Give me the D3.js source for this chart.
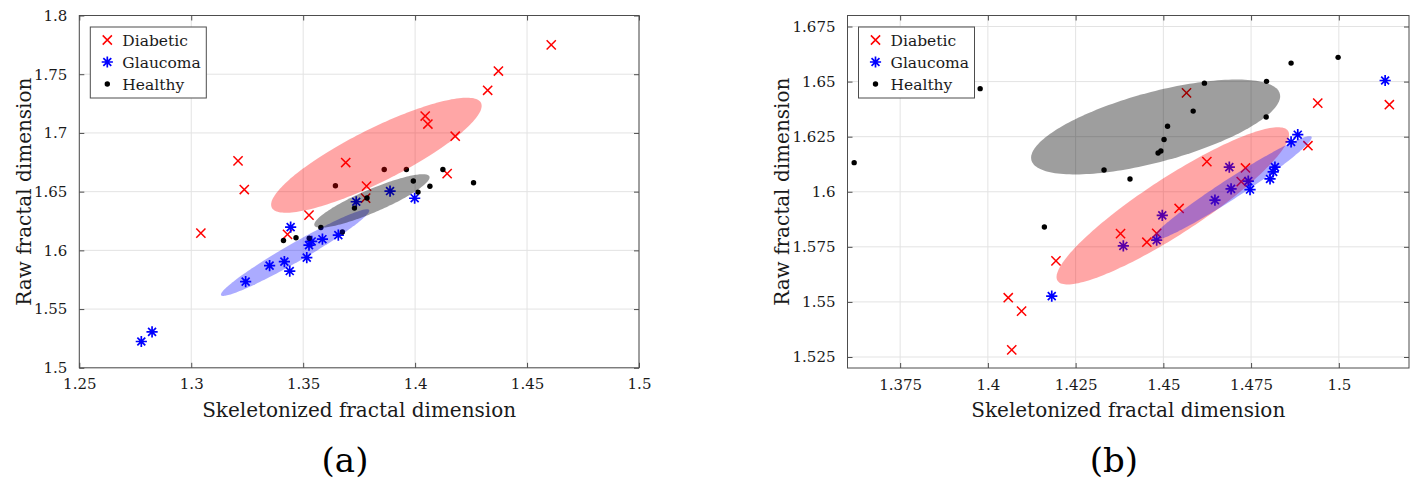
<!DOCTYPE html>
<html>
<head>
<meta charset="utf-8">
<script src="https://cdn.jsdelivr.net/npm/d3@7"></script>
<style>
  html, body { margin: 0; padding: 0; background: #fff; }
  svg { display: block; }
  svg text { font-family: "DejaVu Serif", "Liberation Serif", serif; }
</style>
</head>
<body>
<svg id="chart" width="1414" height="482"></svg>
<script>
'use strict';

// ── Data: panel (a) ─────────────────────────────────────────────────────────
const aXTicks = [1.25, 1.3, 1.35, 1.4, 1.45, 1.5];
const aYTicks = [1.5, 1.55, 1.6, 1.65, 1.7, 1.75, 1.8];

const aDiabetic = [
  [1.4608, 1.775], [1.4372, 1.7527], [1.4324, 1.7363], [1.4045, 1.7144],
  [1.4057, 1.7076], [1.4179, 1.6972], [1.3209, 1.6762], [1.369, 1.6748],
  [1.3237, 1.6518], [1.4143, 1.6654], [1.3783, 1.6547], [1.3779, 1.6445],
  [1.3526, 1.63], [1.3043, 1.6147], [1.343, 1.6136]
];
const aGlaucoma = [
  [1.2777, 1.5224], [1.2825, 1.5306], [1.3243, 1.5734], [1.3350, 1.5870],
  [1.3416, 1.5904], [1.3440, 1.5824], [1.3516, 1.5938], [1.3444, 1.6198],
  [1.3526, 1.6045], [1.3538, 1.6076], [1.3586, 1.6095], [1.3657, 1.6130],
  [1.3737, 1.6414], [1.3888, 1.6505], [1.3998, 1.6444]
];
const aHealthy = [
  [1.3644, 1.6550], [1.3862, 1.6688], [1.3961, 1.6688], [1.4124, 1.6689],
  [1.3992, 1.6591], [1.4066, 1.6546], [1.4013, 1.6496], [1.4261, 1.6576],
  [1.3785, 1.6446], [1.3729, 1.6360], [1.3579, 1.6195], [1.3675, 1.6157],
  [1.3412, 1.6084], [1.3468, 1.6108], [1.3527, 1.6103]
];
// ellipses: centre c, semi-axis vectors u and v (data units)
const aEllDiabetic = { c: [1.3827, 1.6810], u: [0.04672, 0.04462], v: [0.00530, -0.02017] };
const aEllGlaucoma = { c: [1.3464, 1.5981], u: [0.03307, 0.03625], v: [0.00207, -0.00687] };
const aEllHealthy  = { c: [1.3807, 1.6421], u: [0.02568, 0.02088], v: [0.00203, -0.00909] };

// ── Data: panel (b) ─────────────────────────────────────────────────────────
const bXTicks = [1.375, 1.4, 1.425, 1.45, 1.475, 1.5];
const bYTicks = [1.525, 1.55, 1.575, 1.6, 1.625, 1.65, 1.675];

const bDiabetic = [
  [1.4566, 1.6449], [1.4940, 1.6402], [1.5144, 1.6395], [1.4912, 1.6209],
  [1.4624, 1.6137], [1.4734, 1.6108], [1.4722, 1.6046], [1.4545, 1.5924],
  [1.4378, 1.5810], [1.4481, 1.5811], [1.4453, 1.5771], [1.4194, 1.5686],
  [1.4058, 1.5519], [1.4096, 1.5458], [1.4068, 1.5282]
];
const bGlaucoma = [
  [1.4182, 1.5526], [1.4386, 1.5754], [1.4481, 1.5780], [1.4497, 1.5893],
  [1.4647, 1.5962], [1.4693, 1.6013], [1.4688, 1.6112], [1.4742, 1.6048],
  [1.4747, 1.6010], [1.4804, 1.6058], [1.4813, 1.6090], [1.4818, 1.6112],
  [1.4864, 1.6226], [1.4883, 1.6259], [1.5132, 1.6505]
];
const bHealthy = [
  [1.3619, 1.6132], [1.3978, 1.6468], [1.4161, 1.5840], [1.4331, 1.6099],
  [1.4405, 1.6058], [1.4485, 1.6176], [1.4493, 1.6185], [1.4502, 1.6237],
  [1.4512, 1.6297], [1.4585, 1.6366], [1.4617, 1.6493], [1.4794, 1.6501],
  [1.4793, 1.6339], [1.4864, 1.6584], [1.4998, 1.6610]
];
const bEllDiabetic = { c: [1.4527, 1.5936], u: [0.03284, 0.03403], v: [0.00438, -0.01073] };
const bEllGlaucoma = { c: [1.4695, 1.6015], u: [0.02273, 0.02342], v: [0.00155, -0.00381] };
const bEllHealthy  = { c: [1.4478, 1.6294], u: [0.03539, 0.01511], v: [0.00258, -0.01535] };

const legendLabels = ['Diabetic', 'Glaucoma', 'Healthy'];
const xTitle = 'Skeletonized fractal dimension';
const yTitle = 'Raw fractal dimension';

// ── Styles ──────────────────────────────────────────────────────────────────
const RED = '#ff0000', BLUE = '#0000ff', BLACK = '#000000';
const AXIS_COL = '#4d4d4d';
const GRID_COL = '#e3e3e3';
const TEXT_COL = '#1a1a1a';

const svg = d3.select('#chart');
svg.append('rect').attr('width', 1414).attr('height', 482).attr('fill', '#fff');

// marker painters
function drawCross(g, x, y) {
  const s = 4.6;
  g.append('path')
    .attr('d', `M${x - s},${y - s}L${x + s},${y + s}M${x - s},${y + s}L${x + s},${y - s}`)
    .attr('stroke', RED).attr('stroke-width', 1.5).attr('fill', 'none');
}
function drawStar(g, x, y) {
  const s = 5.6, d = s * Math.SQRT1_2;
  g.append('path')
    .attr('d', `M${x - s},${y}L${x + s},${y}M${x},${y - s}L${x},${y + s}` +
               `M${x - d},${y - d}L${x + d},${y + d}M${x - d},${y + d}L${x + d},${y - d}`)
    .attr('stroke', BLUE).attr('stroke-width', 1.7).attr('fill', 'none');
}
function drawDot(g, x, y) {
  g.append('circle').attr('cx', x).attr('cy', y).attr('r', 2.7).attr('fill', BLACK);
}

function panel(cfg) {
  const { left, right, top, bottom } = cfg;
  const x = d3.scaleLinear().domain(cfg.xDomain).range([left, right]);
  const y = d3.scaleLinear().domain(cfg.yDomain).range([bottom, top]);
  const g = svg.append('g');

  // grid
  g.append('g').selectAll('line').data(cfg.xTicks).join('line')
    .attr('x1', d => x(d)).attr('x2', d => x(d))
    .attr('y1', top).attr('y2', bottom)
    .attr('stroke', GRID_COL).attr('stroke-width', 1);
  g.append('g').selectAll('line').data(cfg.yTicks).join('line')
    .attr('x1', left).attr('x2', right)
    .attr('y1', d => y(d)).attr('y2', d => y(d))
    .attr('stroke', GRID_COL).attr('stroke-width', 1);

  // markers (under the ellipses)
  const mk = g.append('g');
  cfg.diabetic.forEach(p => drawCross(mk, x(p[0]), y(p[1])));
  cfg.glaucoma.forEach(p => drawStar(mk, x(p[0]), y(p[1])));
  cfg.healthy.forEach(p => drawDot(mk, x(p[0]), y(p[1])));

  // ellipses
  const ts = d3.range(0, 2 * Math.PI, Math.PI / 90);
  const ellPath = e => d3.line().curve(d3.curveLinearClosed)(ts.map(t => [
    x(e.c[0] + e.u[0] * Math.cos(t) + e.v[0] * Math.sin(t)),
    y(e.c[1] + e.u[1] * Math.cos(t) + e.v[1] * Math.sin(t))
  ]));
  [[cfg.ellD, RED, 0.35], [cfg.ellG, BLUE, 0.33], [cfg.ellH, BLACK, 0.38]].forEach(([e, col, op]) => {
    g.append('path').attr('d', ellPath(e)).attr('fill', col).attr('fill-opacity', op).attr('stroke', 'none');
  });

  // axes with inward ticks
  const fmt = d => String(d);
  const styleAxis = ax => {
    ax.attr('font-family', null).attr('font-size', null);
    ax.selectAll('.domain').remove();
    ax.selectAll('.tick line').attr('stroke', AXIS_COL);
    ax.selectAll('.tick text').attr('fill', TEXT_COL).attr('font-size', '15px');
  };
  g.append('g').attr('transform', `translate(0,${bottom})`)
    .call(d3.axisBottom(x).tickValues(cfg.xTicks).tickSize(-5).tickPadding(11).tickFormat(fmt))
    .call(styleAxis);
  g.append('g').attr('transform', `translate(${left},0)`)
    .call(d3.axisLeft(y).tickValues(cfg.yTicks).tickSize(-5).tickPadding(12).tickFormat(fmt))
    .call(styleAxis);
  g.append('g').attr('transform', `translate(0,${top})`)
    .call(d3.axisTop(x).tickValues(cfg.xTicks).tickSize(-5).tickFormat(''))
    .call(styleAxis);
  g.append('g').attr('transform', `translate(${right},0)`)
    .call(d3.axisRight(y).tickValues(cfg.yTicks).tickSize(-5).tickFormat(''))
    .call(styleAxis);

  // box
  g.append('rect').attr('x', left).attr('y', top)
    .attr('width', right - left).attr('height', bottom - top)
    .attr('fill', 'none').attr('stroke', AXIS_COL).attr('stroke-width', 1);

  // titles
  g.append('text').attr('x', (left + right) / 2).attr('y', 417)
    .attr('text-anchor', 'middle').attr('font-size', '20px').attr('fill', TEXT_COL)
    .text(xTitle);
  g.append('text').attr('transform', `translate(${cfg.yTitleX},${(top + bottom) / 2}) rotate(-90)`)
    .attr('text-anchor', 'middle').attr('font-size', '20px').attr('fill', TEXT_COL)
    .text(yTitle);
  g.append('text').attr('x', cfg.tagX).attr('y', 472)
    .attr('text-anchor', 'middle').attr('font-size', '34px').attr('fill', '#000')
    .text(cfg.tag);

  // legend
  const lx = left + 11, ly = 27;
  const lg = g.append('g');
  lg.append('rect').attr('x', lx).attr('y', ly).attr('width', 116).attr('height', 71)
    .attr('fill', '#fff').attr('stroke', AXIS_COL).attr('stroke-width', 1);
  const painters = [drawCross, drawStar, drawDot];
  legendLabels.forEach((lab, i) => {
    const cy = ly + 13 + i * 22;
    painters[i](lg, lx + 17, cy);
    lg.append('text').attr('x', lx + 32).attr('y', cy + 5.5)
      .attr('font-size', '15.5px').attr('fill', TEXT_COL).text(lab);
  });
}

panel({
  left: 79.3, right: 639, top: 15.5, bottom: 367.8,
  xDomain: [1.25, 1.5], yDomain: [1.5, 1.8],
  xTicks: aXTicks, yTicks: aYTicks,
  diabetic: aDiabetic, glaucoma: aGlaucoma, healthy: aHealthy,
  ellD: aEllDiabetic, ellG: aEllGlaucoma, ellH: aEllHealthy,
  yTitleX: 31, tagX: 345, tag: '(a)'
});

panel({
  left: 847.5, right: 1409, top: 15.5, bottom: 368,
  xDomain: [1.36, 1.52], yDomain: [1.52, 1.68],
  xTicks: bXTicks, yTicks: bYTicks,
  diabetic: bDiabetic, glaucoma: bGlaucoma, healthy: bHealthy,
  ellD: bEllDiabetic, ellG: bEllGlaucoma, ellH: bEllHealthy,
  yTitleX: 789, tagX: 1114, tag: '(b)'
});
</script>
</body>
</html>
